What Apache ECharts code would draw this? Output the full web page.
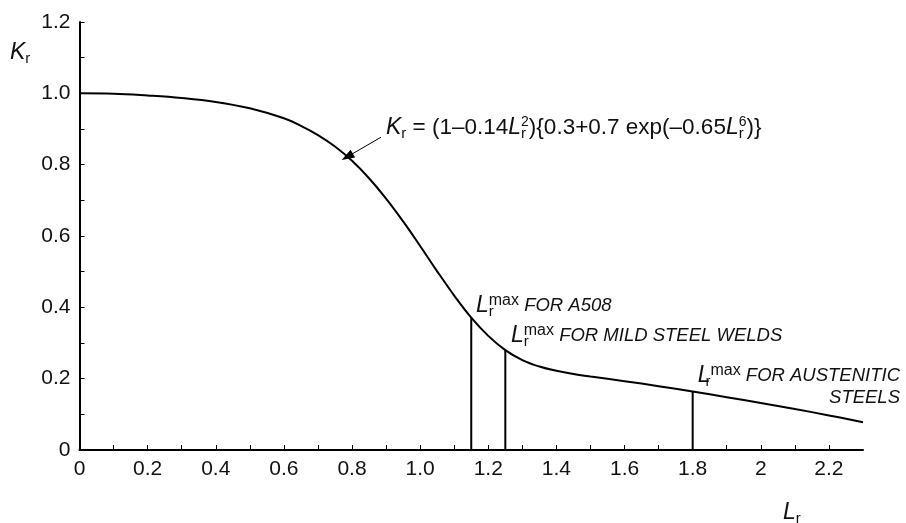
<!DOCTYPE html>
<html>
<head>
<meta charset="utf-8">
<script src="https://cdn.jsdelivr.net/npm/echarts/dist/echarts.min.js"></script>
<style>
  html, body { margin: 0; padding: 0; background: #fff; }
  #chart { width: 906px; height: 523px; }
</style>
</head>
<body>
<div id="chart"></div>
<script>
// values
var lrValues = [0, 0.1, 0.2, 0.3, 0.4, 0.5, 0.6, 0.65, 0.7, 0.75, 0.8, 0.85, 0.9, 0.95, 1.0, 1.05, 1.1, 1.15, 1.2, 1.25, 1.3, 1.35, 1.4, 1.45, 1.5, 1.6, 1.7, 1.8, 1.9, 2.0, 2.1, 2.2, 2.3];
var krValues = [1.000, 0.999, 0.994, 0.987, 0.976, 0.958, 0.930, 0.909, 0.883, 0.851, 0.811, 0.762, 0.705, 0.641, 0.572, 0.501, 0.433, 0.371, 0.320, 0.280, 0.252, 0.234, 0.222, 0.213, 0.206, 0.193, 0.179, 0.164, 0.148, 0.132, 0.115, 0.097, 0.078];

// L_r max cut-offs and the height of each vertical line
var cutoffNames = ['A508', 'MILD STEEL WELDS', 'AUSTENITIC STEELS'];
var cutoffLr = [1.15, 1.25, 1.8];
var cutoffKr = [0.371, 0.280, 0.164];

var xTickLabels = ['0', '0.2', '0.4', '0.6', '0.8', '1.0', '1.2', '1.4', '1.6', '1.8', '2', '2.2'];
var yTickLabels = ['0', '0.2', '0.4', '0.6', '0.8', '1.0', '1.2'];

var FONT = '"Liberation Sans", Arial, Helvetica, sans-serif';

var curve = lrValues.map(function (l, i) { return [l, krValues[i]]; });

function tickFormatter (labels) {
  return function (v) {
    var k = Math.round(v * 10);
    if (k % 2 !== 0) return '';
    return labels[k / 2] || '';
  };
}

var rich = {
  n: { fontFamily: FONT, fontSize: 22.5, lineHeight: 26, color: '#111' },
  i: { fontFamily: FONT, fontSize: 23, fontStyle: 'italic', lineHeight: 26, color: '#111' },
  sb: { fontFamily: FONT, fontSize: 15, lineHeight: 14, verticalAlign: 'bottom', color: '#111' },
  sbz: { fontFamily: FONT, fontSize: 15, lineHeight: 14, verticalAlign: 'bottom', width: 0, color: '#111' },
  sp: { fontFamily: FONT, fontSize: 14, lineHeight: 14, verticalAlign: 'top', color: '#111' },
  mx: { fontFamily: FONT, fontSize: 16, lineHeight: 15, verticalAlign: 'top', color: '#111' },
  f: { fontFamily: FONT, fontSize: 18.5, fontStyle: 'italic', lineHeight: 26, color: '#111' }
};

function txt (x, y, text, align) {
  return {
    type: 'text',
    x: x,
    y: y,
    silent: true,
    style: {
      text: text,
      rich: rich,
      fontFamily: FONT,
      fontSize: 22.5,
      fill: '#111',
      align: align || 'left',
      verticalAlign: 'middle'
    }
  };
}

var series = [{
  type: 'line',
  data: curve,
  showSymbol: false,
  smooth: 0.4,
  lineStyle: { color: '#000', width: 2 },
  markLine: {
    silent: true,
    symbol: ['none', 'triangle'],
    symbolSize: [9, 13],
    label: { show: false },
    lineStyle: { color: '#000', width: 1, type: 'solid' },
    data: [[{ coord: [0.885, 0.877] }, { coord: [0.786, 0.822] }]]
  },
  z: 3
}];

cutoffLr.forEach(function (l, i) {
  series.push({
    type: 'line',
    name: cutoffNames[i],
    data: [[l, 0], [l, cutoffKr[i]]],
    showSymbol: false,
    lineStyle: { color: '#000', width: 2 },
    z: 2
  });
});

var chart = echarts.init(document.getElementById('chart'), null, { renderer: 'canvas' });

chart.setOption({
  animation: false,
  backgroundColor: '#fff',
  grid: { left: 79.5, right: 43, top: 22, bottom: 73, containLabel: false },
  xAxis: {
    type: 'value',
    min: 0,
    max: 2.3,
    interval: 0.1,
    axisLine: { lineStyle: { color: '#000', width: 2 } },
    axisTick: { inside: true, length: 5, lineStyle: { color: '#000', width: 1 } },
    axisLabel: {
      margin: 9,
      color: '#111',
      fontFamily: FONT,
      fontSize: 21,
      showMaxLabel: false,
      formatter: tickFormatter(xTickLabels)
    },
    splitLine: { show: false }
  },
  yAxis: {
    type: 'value',
    min: 0,
    max: 1.2,
    interval: 0.1,
    axisLine: { show: true, lineStyle: { color: '#000', width: 2 } },
    axisTick: { show: true, inside: true, length: 5, lineStyle: { color: '#000', width: 1 } },
    axisLabel: {
      margin: 9,
      color: '#111',
      fontFamily: FONT,
      fontSize: 21,
      formatter: tickFormatter(yTickLabels)
    },
    splitLine: { show: false }
  },
  series: series,
  graphic: [
    txt(386, 128, '{i|K}{sb|r}{n| = (1–0.14}{i|L}{sbz|r}{sp|2}{n|){0.3+0.7 exp(–0.65}{i|L}{sbz|r}{sp|6}{n|)\u007d}'),
    txt(476, 306, '{i|L}{sbz|r}{mx|max}{f| FOR A508}'),
    txt(511, 336, '{i|L}{sbz|r}{mx|max}{f| FOR MILD STEEL WELDS}'),
    txt(900, 376, '{i|L}{sbz|r}{mx|max}{f| FOR AUSTENITIC}', 'right'),
    txt(900, 398, '{f|STEELS}', 'right'),
    txt(10, 53, '{i|K}{sb|r}'),
    txt(783, 513, '{i|L}{sb|r}')
  ]
});
</script>
</body>
</html>
